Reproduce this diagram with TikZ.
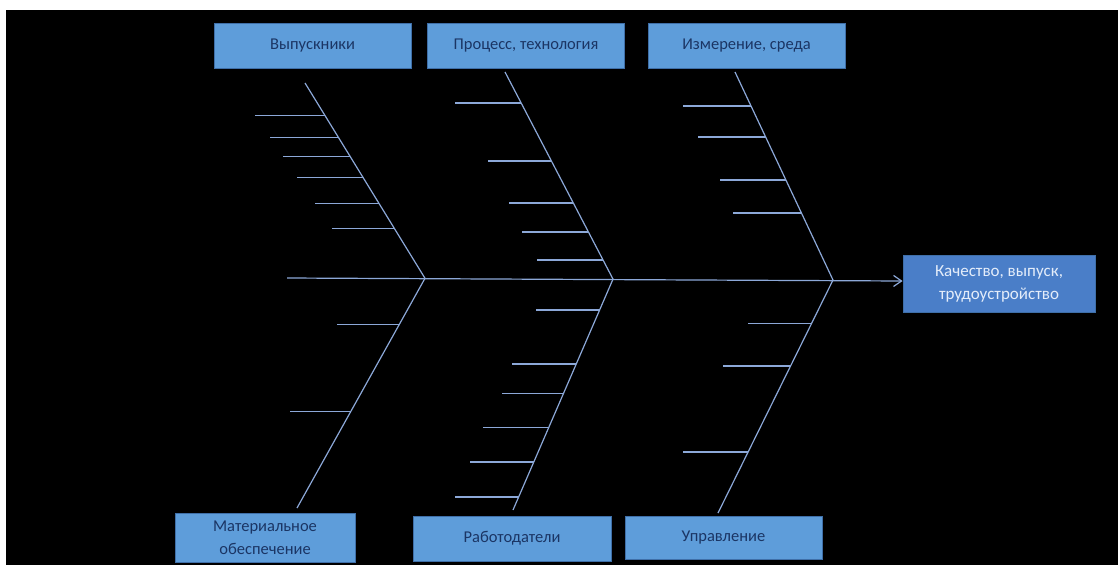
\documentclass[tikz,border=0pt]{standalone}
\usepackage{fontspec}
\setmainfont{Carlito}
\usetikzlibrary{calc,arrows.meta}

\definecolor{bonecol}{HTML}{8CA8D8}
\definecolor{causefill}{HTML}{5E9DDA}
\definecolor{causeedge}{HTML}{3F6FA8}
\definecolor{causetext}{HTML}{1B3564}
\definecolor{effectfill}{HTML}{4A7EC8}
\definecolor{effecttext}{HTML}{E4EDFA}

\tikzset{
  cause/.style={draw=causeedge, line width=0.8pt, fill=causefill, text=causetext,
    font=\fontsize{16.5}{23}\selectfont, align=center, inner sep=0pt,
    minimum width=197pt, minimum height=45pt},
  effect/.style={draw=causeedge, line width=0.8pt, fill=effectfill, text=effecttext,
    font=\fontsize{17}{23}\selectfont, align=center, inner sep=0pt,
    minimum width=192pt, minimum height=57pt},
  bone/.style={draw=bonecol, line width=1.2pt},
  rib/.style={draw=bonecol, line width=1.2pt},
}

\begin{document}
\begin{tikzpicture}[x=1pt, y=-1pt]
  \useasboundingbox (0,0) rectangle (1118,565);
  % page and dark canvas
  \fill[white] (0,0) rectangle (1118,565);
  \fill[black] (6,10) rectangle (1118,565);

  % cause categories
  \node[cause] (grad)  at (312.5,45.5) {Выпускники};
  \node[cause] (proc)  at (526,45.5)   {Процесс, технология};
  \node[cause] (meas)  at (746.5,45.5) {Измерение, среда};
  \node[cause, minimum width=180pt, minimum height=49pt] (mat) at (265,537.5)
    {Материальное\\обеспечение};
  \node[cause, minimum width=198pt] (empl) at (512,538.5) {Работодатели};
  \node[cause, minimum height=43pt] (mgmt) at (723.5,537.5) {Управление};

  % effect
  \node[effect] (eff) at (999,283.5) {Качество, выпуск,\\трудоустройство};

  % spine with the three junctions
  \coordinate (tail) at (287,278);
  \coordinate (j1) at (425,278.3);
  \coordinate (j2) at (613,279.1);
  \coordinate (j3) at (833,280);
  \draw[bone, -{Straight Barb[length=8pt,width=11pt]}] (tail) -- (eff.west |- 0,281);

  % free ends of the main bones
  \coordinate (t1) at (305,83);
  \coordinate (t2) at (505,72);
  \coordinate (t3) at (735,72);
  \coordinate (b1) at (297,508);
  \coordinate (b2) at (513,510);
  \coordinate (b3) at (718,513);

  \draw[bone] (t1) -- (j1) -- (b1);
  \draw[bone] (t2) -- (j2) -- (b2);
  \draw[bone] (t3) -- (j3) -- (b3);

  % ribs: position along the bone / length to the left
  \foreach \f/\l in {0.165/70, 0.278/68, 0.375/67, 0.483/66, 0.617/64, 0.745/62}
    \draw[rib] ($(t1)!\f!(j1)$) -- ++(-\l,0);
  \foreach \f/\l in {0.202/62, 0.579/61}
    \draw[rib] ($(j1)!\f!(b1)$) -- ++(-\l,0);
  \foreach \f/\l in {0.150/66, 0.430/63, 0.633/64, 0.773/66, 0.908/66}
    \draw[rib] ($(t2)!\f!(j2)$) -- ++(-\l,0);
  \foreach \f/\l in {0.134/64, 0.368/64, 0.494/62, 0.641/66, 0.792/64, 0.944/64}
    \draw[rib] ($(j2)!\f!(b2)$) -- ++(-\l,0);
  \foreach \f/\l in {0.163/68, 0.3125/68, 0.519/66, 0.678/68}
    \draw[rib] ($(t3)!\f!(j3)$) -- ++(-\l,0);
  \foreach \f/\l in {0.185/64, 0.369/68, 0.738/65}
    \draw[rib] ($(j3)!\f!(b3)$) -- ++(-\l,0);
\end{tikzpicture}
\end{document}
